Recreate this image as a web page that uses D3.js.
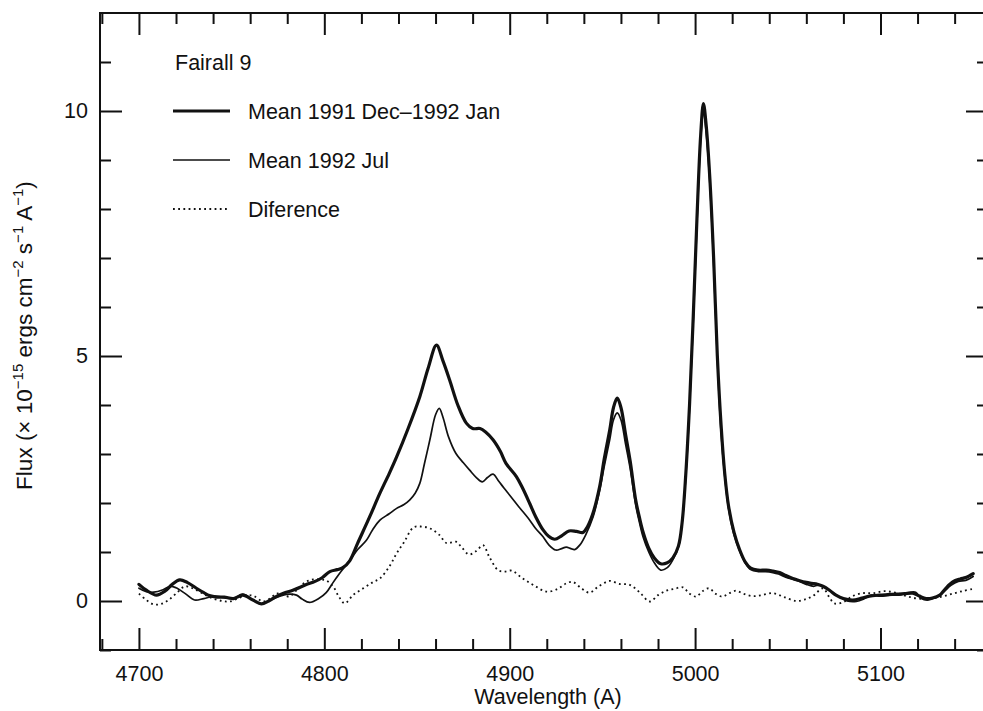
<!DOCTYPE html>
<html>
<head>
<meta charset="utf-8">
<script src="https://cdn.jsdelivr.net/npm/d3@7/dist/d3.min.js"></script>
<style>
  html, body { margin: 0; padding: 0; background: #fff; }
  svg { display: block; font-family: "Liberation Sans", Arial, Helvetica, sans-serif; }
</style>
</head>
<body>
<svg id="chart" width="983" height="711"></svg>
<script>
// Fairall 9 spectra around H-beta and [O III]
// Mean 1991 Dec-1992 Jan spectrum
const decJanWave = [4700,4704,4709.5,4714,4718,4722,4726,4731,4735,4738,4742,4746,4751,4756,4761.5,4766,4770,4774,4778,4783,4790,4795,4799,4803,4807,4810,4813.7,4818,4824.5,4830,4835,4839,4845,4851.5,4856,4860.5,4864,4867.6,4872,4876.6,4880,4884,4887,4891,4895,4898,4903.6,4907,4910.8,4914,4918,4921,4924.3,4928,4932,4936,4939.5,4942,4945,4948.5,4951,4954,4956,4958,4960,4962.5,4965,4968,4970,4972,4975,4978,4981.5,4985,4988,4991,4993,4995,4997,4999,5001,5003,5004.5,5006,5008,5010,5012,5014,5016,5018,5021,5024,5027,5030,5034,5038.4,5042,5045.6,5049,5052.7,5056,5060,5063,5066,5069,5072.5,5076,5080,5085,5090,5094,5099.5,5104,5108.5,5113,5117.4,5121,5124.6,5128,5132,5135,5139,5143,5146,5150];
const decJanFlux = [0.34,0.22,0.12,0.2,0.34,0.43,0.38,0.26,0.17,0.11,0.08,0.08,0.05,0.12,0.02,-0.06,0.0,0.09,0.16,0.22,0.33,0.4,0.48,0.6,0.64,0.68,0.82,1.18,1.72,2.2,2.6,2.94,3.5,4.17,4.75,5.22,4.9,4.51,4.0,3.63,3.52,3.52,3.45,3.29,3.05,2.81,2.54,2.3,1.99,1.72,1.45,1.32,1.26,1.33,1.43,1.42,1.4,1.52,1.8,2.33,2.9,3.5,3.95,4.14,3.95,3.4,2.85,2.05,1.7,1.4,1.08,0.88,0.76,0.78,0.88,1.12,1.6,2.6,4.0,5.8,7.8,9.5,10.15,9.7,8.6,7.0,5.0,3.6,2.6,1.95,1.4,1.05,0.8,0.67,0.63,0.63,0.61,0.58,0.52,0.46,0.42,0.38,0.36,0.34,0.3,0.22,0.12,0.05,0.02,0.06,0.1,0.12,0.13,0.14,0.15,0.16,0.1,0.05,0.06,0.12,0.25,0.39,0.45,0.48,0.56];

// Mean 1992 Jul spectrum
const julWave = [4700,4704,4708,4713,4717,4720,4725,4730,4735,4741,4746,4751,4756,4761,4766,4771,4776,4781,4785,4788,4792,4797,4801,4804.6,4808,4811,4814,4818,4822.7,4826,4830,4835,4839,4843,4846,4849,4851.5,4854,4857,4860,4862,4864,4867,4871,4875,4878.4,4882,4885.2,4888,4891,4894,4897,4900,4905,4910.8,4914,4918,4921,4924.8,4928,4930.5,4933,4935,4938,4941,4945,4948.5,4951,4954,4956,4958,4960,4962.5,4965,4968,4970,4972,4975,4978,4981.5,4985,4988,4991,4993,4995,4997,4999,5001,5003,5004.5,5006,5008,5010,5012,5014,5016,5018,5021,5024,5027,5030,5034,5038,5042,5045,5050,5055,5060,5064,5067,5070,5074,5078,5082,5087,5091,5095,5100,5105,5110,5115,5119,5122,5126,5130,5134,5138,5142,5146,5150];
const julFlux = [0.26,0.19,0.18,0.23,0.3,0.27,0.15,0.02,0.05,0.1,0.07,0.05,0.14,0.03,-0.06,0.02,0.1,0.14,0.12,0.04,-0.03,0.05,0.17,0.37,0.55,0.7,0.84,1.05,1.24,1.45,1.65,1.78,1.89,1.97,2.06,2.2,2.4,2.8,3.3,3.8,3.93,3.75,3.35,3.01,2.82,2.67,2.52,2.43,2.52,2.59,2.45,2.3,2.16,1.92,1.65,1.48,1.31,1.15,1.04,1.07,1.1,1.07,1.05,1.15,1.35,1.72,2.25,2.75,3.3,3.7,3.84,3.7,3.2,2.7,1.95,1.6,1.3,1.0,0.78,0.63,0.68,0.84,1.1,1.6,2.55,3.95,5.7,7.7,9.4,10.0,9.55,8.5,6.9,4.95,3.45,2.55,1.9,1.35,1.02,0.78,0.64,0.6,0.6,0.58,0.55,0.47,0.42,0.34,0.3,0.33,0.28,0.18,0.08,0.0,-0.01,0.04,0.12,0.1,0.12,0.12,0.17,0.18,0.05,0.02,0.08,0.18,0.32,0.4,0.42,0.5];

// Difference spectrum
const diffWave = [4700,4704,4708,4712,4716,4720,4725,4731,4736,4740,4745,4749,4754,4758,4762,4767,4771,4774,4778,4781,4785,4790,4794,4797.6,4801,4804.7,4808,4811,4815.5,4821,4826,4830,4835,4839,4843,4848,4852,4857,4862,4866,4871,4874,4878,4882,4885.6,4889,4893.7,4897,4901,4907,4913,4920,4926,4930.5,4934,4938,4943,4948,4954,4959,4964.7,4970,4975.5,4980,4984.5,4989,4993.4,4997,5000.6,5004,5007.5,5011,5014.7,5018,5022,5026,5031,5036,5042,5048,5054.5,5059,5063.5,5069,5072,5075.2,5080,5085,5090.5,5096,5102,5108,5114,5120,5126,5132,5138,5144,5150];
const diffFlux = [0.15,0.02,-0.07,-0.06,0.02,0.15,0.3,0.22,0.12,0.05,0.0,-0.01,0.06,0.12,0.1,-0.01,0.06,0.15,0.13,0.09,0.22,0.39,0.44,0.44,0.42,0.3,0.08,-0.05,0.12,0.26,0.38,0.46,0.7,0.97,1.2,1.5,1.52,1.48,1.35,1.18,1.21,1.1,0.95,1.02,1.14,0.9,0.63,0.6,0.62,0.46,0.32,0.19,0.25,0.36,0.39,0.28,0.17,0.3,0.41,0.35,0.33,0.18,-0.01,0.12,0.21,0.25,0.28,0.15,0.09,0.2,0.26,0.15,0.09,0.15,0.21,0.15,0.1,0.12,0.16,0.08,0.0,0.03,0.1,0.26,0.1,-0.05,-0.02,0.1,0.16,0.16,0.2,0.17,0.1,0.05,0.05,0.08,0.14,0.2,0.25];

// Axis ticks
const xMajorTicks = [4700, 4800, 4900, 5000, 5100];
const xMinorTicks = d3.range(4680, 5161, 20).filter(v => v % 100 !== 0);
const yMajorTicks = [0, 5, 10];
const yMinorTicks = [-1, 1, 2, 3, 4, 6, 7, 8, 9, 11];

const legendTitle = "Fairall 9";
const seriesNames = ["Mean 1991 Dec\u20131992 Jan", "Mean 1992 Jul", "Diference"];

const svg = d3.select("#chart");
const plotLeft = 100, plotRight = 988, plotTop = 13, plotBottom = 650;

const x = d3.scaleLinear().domain([4679, 5158]).range([plotLeft, plotRight]);
const y = d3.scaleLinear().domain([-1, 12]).range([plotBottom, plotTop]);

const ink = "#111";
const fontSize = 21.5;

// Frame
svg.append("rect")
  .attr("x", plotLeft).attr("y", plotTop)
  .attr("width", plotRight - plotLeft).attr("height", plotBottom - plotTop)
  .attr("fill", "none").attr("stroke", ink).attr("stroke-width", 2);

function styleAxis(g) {
  g.select(".domain").remove();
  g.selectAll(".tick line").attr("stroke", ink).attr("stroke-width", 2);
  g.selectAll(".tick text").attr("fill", ink)
    .style("font-size", fontSize + "px")
    .style("font-family", '"Liberation Sans", Arial, Helvetica, sans-serif');
}

// Bottom axis: majors with labels, minors without
svg.append("g").attr("transform", `translate(0,${plotBottom})`)
  .call(d3.axisBottom(x).tickValues(xMajorTicks).tickSize(-22).tickPadding(16).tickFormat(d3.format("d")))
  .call(styleAxis);
svg.append("g").attr("transform", `translate(0,${plotBottom})`)
  .call(d3.axisBottom(x).tickValues(xMinorTicks).tickSize(-11).tickFormat(""))
  .call(styleAxis);

// Top axis
svg.append("g").attr("transform", `translate(0,${plotTop})`)
  .call(d3.axisTop(x).tickValues(xMajorTicks).tickSize(-22).tickFormat(""))
  .call(styleAxis);
svg.append("g").attr("transform", `translate(0,${plotTop})`)
  .call(d3.axisTop(x).tickValues(xMinorTicks).tickSize(-11).tickFormat(""))
  .call(styleAxis);

// Left axis
svg.append("g").attr("transform", `translate(${plotLeft},0)`)
  .call(d3.axisLeft(y).tickValues(yMajorTicks).tickSize(-22).tickPadding(12).tickFormat(d3.format("d")))
  .call(styleAxis);
svg.append("g").attr("transform", `translate(${plotLeft},0)`)
  .call(d3.axisLeft(y).tickValues(yMinorTicks).tickSize(-11).tickFormat(""))
  .call(styleAxis);

// Right axis
svg.append("g").attr("transform", `translate(${plotRight},0)`)
  .call(d3.axisRight(y).tickValues(yMajorTicks).tickSize(-22).tickFormat(""))
  .call(styleAxis);
svg.append("g").attr("transform", `translate(${plotRight},0)`)
  .call(d3.axisRight(y).tickValues(yMinorTicks).tickSize(-11).tickFormat(""))
  .call(styleAxis);

// Axis titles
svg.append("text")
  .attr("x", (plotLeft + plotRight) / 2 + 4).attr("y", 704)
  .attr("text-anchor", "middle")
  .attr("fill", ink)
  .style("font-size", fontSize + "px")
  .text("Wavelength (A)");

const yTitle = svg.append("text")
  .attr("transform", `translate(32,${(plotTop + plotBottom) / 2 + 4}) rotate(-90)`)
  .attr("text-anchor", "middle")
  .attr("fill", ink)
  .style("font-size", "22.5px");
const supSize = "15px";
yTitle.append("tspan").text("Flux (\u00d7 10");
yTitle.append("tspan").attr("dy", -9).style("font-size", supSize).text("\u221215");
yTitle.append("tspan").attr("dy", 9).text(" ergs cm");
yTitle.append("tspan").attr("dy", -9).style("font-size", supSize).text("\u22122");
yTitle.append("tspan").attr("dy", 9).text(" s");
yTitle.append("tspan").attr("dy", -9).style("font-size", supSize).text("\u22121");
yTitle.append("tspan").attr("dy", 9).text(" A");
yTitle.append("tspan").attr("dy", -9).style("font-size", supSize).text("\u22121");
yTitle.append("tspan").attr("dy", 9).text(")");

// Spectra
const series = [
  { name: seriesNames[0], wave: decJanWave, flux: decJanFlux, width: 3.2, dash: null },
  { name: seriesNames[1], wave: julWave, flux: julFlux, width: 1.7, dash: null },
  { name: seriesNames[2], wave: diffWave, flux: diffFlux, width: 1.8, dash: "1.8,3.4" }
];

const line = d3.line()
  .x(d => x(d[0]))
  .y(d => y(d[1]))
  .curve(d3.curveCatmullRom.alpha(0.5));

const plot = svg.append("g");
series.slice().reverse().forEach(s => {
  plot.append("path")
    .datum(d3.zip(s.wave, s.flux))
    .attr("d", line)
    .attr("fill", "none")
    .attr("stroke", ink)
    .attr("stroke-width", s.width)
    .attr("stroke-linejoin", "round")
    .attr("stroke-linecap", s.dash ? "butt" : "round")
    .attr("stroke-dasharray", s.dash);
});

// Legend
const legend = svg.append("g").style("font-size", fontSize + "px").attr("fill", ink);
legend.append("text").attr("x", 175).attr("y", 70).text(legendTitle);
const legendRows = [111, 160, 209];
series.forEach((s, i) => {
  legend.append("line")
    .attr("x1", 173).attr("x2", 230)
    .attr("y1", legendRows[i]).attr("y2", legendRows[i])
    .attr("stroke", ink)
    .attr("stroke-width", s.width)
    .attr("stroke-dasharray", s.dash);
  legend.append("text")
    .attr("x", 248).attr("y", legendRows[i] + 7.5)
    .text(s.name);
});
</script>
</body>
</html>
